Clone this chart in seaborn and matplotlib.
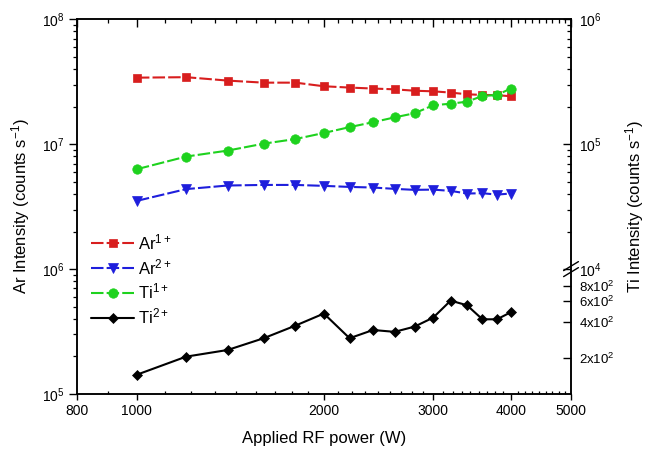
import matplotlib
matplotlib.use("Agg")
import matplotlib.pyplot as plt
import seaborn as sns
import numpy as np
from matplotlib.ticker import FixedLocator, FixedFormatter, NullLocator, NullFormatter

# ---- data ----
power = [1000, 1200, 1400, 1600, 1800, 2000, 2200, 2400, 2600, 2800,
         3000, 3200, 3400, 3600, 3800, 4000]
ar1 = [3.41e7, 3.44e7, 3.23e7, 3.11e7, 3.11e7, 2.91e7, 2.84e7, 2.79e7,
       2.75e7, 2.68e7, 2.65e7, 2.59e7, 2.51e7, 2.48e7, 2.47e7, 2.42e7]
ar2 = [3.52e6, 4.37e6, 4.67e6, 4.72e6, 4.72e6, 4.64e6, 4.55e6, 4.50e6,
       4.39e6, 4.31e6, 4.33e6, 4.23e6, 4.03e6, 4.05e6, 3.95e6, 4.03e6]
ti1 = [6.31e4, 7.96e4, 8.89e4, 1.01e5, 1.10e5, 1.23e5, 1.37e5, 1.50e5,
       1.64e5, 1.77e5, 2.05e5, 2.11e5, 2.19e5, 2.43e5, 2.48e5, 2.79e5]
ti2 = [145, 205, 233, 292, 372, 469, 292, 342, 330, 365, 434, 601, 550,
       420, 420, 481]

series_labels = ["Ar$^{1+}$", "Ar$^{2+}$", "Ti$^{1+}$", "Ti$^{2+}$"]
x_major = [800, 1000, 2000, 3000, 4000, 5000]
x_major_labels = ["800", "1000", "2000", "3000", "4000", "5000"]
ti2_ticks = [200, 400, 600, 800]
ti2_tick_labels = ["2x10$^{2}$", "4x10$^{2}$", "6x10$^{2}$", "8x10$^{2}$"]

# ---- style ----
sns.set_style("ticks")
plt.rcParams["font.family"] = ["Liberation Sans", "DejaVu Sans"]
plt.rcParams["mathtext.fontset"] = "custom"
plt.rcParams["mathtext.rm"] = "Liberation Sans"
plt.rcParams["mathtext.it"] = "Liberation Sans:italic"
plt.rcParams["mathtext.bf"] = "Liberation Sans:bold"
plt.rcParams["axes.linewidth"] = 1.1
for key in ("text.color", "axes.labelcolor", "xtick.color", "ytick.color",
            "axes.edgecolor"):
    plt.rcParams[key] = "black"

RED = "#D81E1E"
BLUE = "#1E1EDC"
GREEN = "#1ED21E"
BLACK = "#000000"
DASH = (0, (6, 1.5))

fig, ax = plt.subplots(figsize=(6.48, 4.55), dpi=100)
fig.subplots_adjust(left=0.1184, right=0.8812, top=0.9576, bottom=0.134)

ax2 = ax.twinx()   # Ti1+ (upper log segment)
ax3 = ax.twinx()   # Ti2+ (lower log segment)

for a in (ax, ax2, ax3):
    a.set_xscale("log")
    a.set_yscale("log")

sns.lineplot(x=power, y=ar1, ax=ax, color=RED, marker="s", markersize=6,
             markeredgecolor=RED, markeredgewidth=0.5, linestyle=DASH,
             linewidth=1.5, label=series_labels[0], legend=False)
sns.lineplot(x=power, y=ar2, ax=ax, color=BLUE, marker="v", markersize=7.5,
             markeredgecolor=BLUE, markeredgewidth=0.5, linestyle=DASH,
             linewidth=1.5, label=series_labels[1], legend=False)
sns.lineplot(x=power, y=ti1, ax=ax2, color=GREEN, marker="o", markersize=6.8,
             markeredgecolor=GREEN, markeredgewidth=0.5, linestyle=DASH,
             linewidth=1.5, label=series_labels[2], legend=False)
sns.lineplot(x=power, y=ti2, ax=ax3, color=BLACK, marker="D", markersize=5.4,
             markeredgecolor=BLACK, markeredgewidth=0.5, linestyle="-",
             linewidth=1.5, label=series_labels[3], legend=False)

# ---- x axis ----
ax.set_xlim(800, 5000)
minor_x = [900]
for a_, b_ in zip(x_major[1:-1], x_major[2:]):
    minor_x += [a_ + k * (b_ - a_) / 9 for k in range(1, 9)]
ax.xaxis.set_major_locator(FixedLocator(x_major))
ax.xaxis.set_major_formatter(FixedFormatter(x_major_labels))
ax.xaxis.set_minor_locator(FixedLocator(minor_x))
ax.xaxis.set_minor_formatter(NullFormatter())
ax.tick_params(axis="x", which="major", direction="out", length=4.5, width=1.0,
               labelsize=10, top=False, pad=3)
ax.tick_params(axis="x", which="minor", direction="in", length=2.5, width=0.9,
               top=False)
ax.set_xlabel("Applied RF power (W)", fontsize=12, labelpad=9)

# top ticks (inward) drawn via the twin's shared x axis
ax3.xaxis.set_visible(True)
ax3.tick_params(axis="x", which="both", bottom=False, top=True,
                labelbottom=False, labeltop=False, direction="in")
ax3.tick_params(axis="x", which="major", length=5.5, width=1.0)
ax3.tick_params(axis="x", which="minor", length=3.2, width=0.9)

# ---- left y axis (Ar) ----
ax.set_ylim(1e5, 1e8)
ax.yaxis.set_major_locator(FixedLocator([1e5, 1e6, 1e7, 1e8]))
ax.yaxis.set_minor_locator(FixedLocator([k * 10.0 ** n for n in (5, 6, 7)
                                         for k in range(2, 10)]))
ax.yaxis.set_minor_formatter(NullFormatter())
ax.tick_params(axis="y", which="major", direction="out", length=5.5, width=1.0,
               labelsize=10, right=False)
ax.tick_params(axis="y", which="minor", direction="out", length=3.2, width=0.9,
               right=False)
ax.set_ylabel("Ar Intensity (counts s$^{-1}$)", fontsize=12)
ax.yaxis.set_label_coords(-0.09, 0.5)

# ---- right y axis upper segment (Ti1+) ----
ax2.set_ylim(1e3, 1e6)
ax2.yaxis.set_major_locator(FixedLocator([1e4, 1e5, 1e6]))
ax2.yaxis.set_minor_locator(FixedLocator([k * 10.0 ** n for n in (4, 5)
                                          for k in range(2, 10)]))
ax2.yaxis.set_minor_formatter(NullFormatter())
ax2.tick_params(axis="y", which="major", direction="in", length=5.5, width=1.0,
                labelsize=10, pad=6)
ax2.tick_params(axis="y", which="minor", direction="in", length=3.2, width=0.9)
ax2.set_ylabel("Ti Intensity (counts s$^{-1}$)", fontsize=12)
ax2.yaxis.set_label_coords(1.105, 0.5)

# ---- right y axis lower segment (Ti2+) ----
ax3.set_ylim(100, 1.334e5)
ax3.yaxis.set_major_locator(FixedLocator(ti2_ticks))
ax3.yaxis.set_major_formatter(FixedFormatter(ti2_tick_labels))
ax3.yaxis.set_minor_locator(NullLocator())
ax3.tick_params(axis="y", which="major", direction="in", length=5.5, width=1.0,
                labelsize=9.5, pad=6)
for sp in ax3.spines.values():
    sp.set_visible(False)
ax3.set_ylabel("")

# axis break marks on the right spine
for dy in (-0.008, 0.008):
    ax2.plot([0.985, 1.015], [1 / 3 + dy - 0.012, 1 / 3 + dy + 0.012],
             transform=ax2.transAxes, color="black", lw=1.0, clip_on=False,
             zorder=10)

# ---- legend ----
handles = []
for a in (ax, ax2, ax3):
    h, l = a.get_legend_handles_labels()
    handles += h
leg = ax3.legend(handles, series_labels, loc="upper left",
                 bbox_to_anchor=(0.005, 0.463), frameon=False, fontsize=12,
                 handlelength=2.6, handletextpad=0.25, labelspacing=0.3,
                 borderaxespad=0.3)

fig.savefig("out.png", dpi=100)
